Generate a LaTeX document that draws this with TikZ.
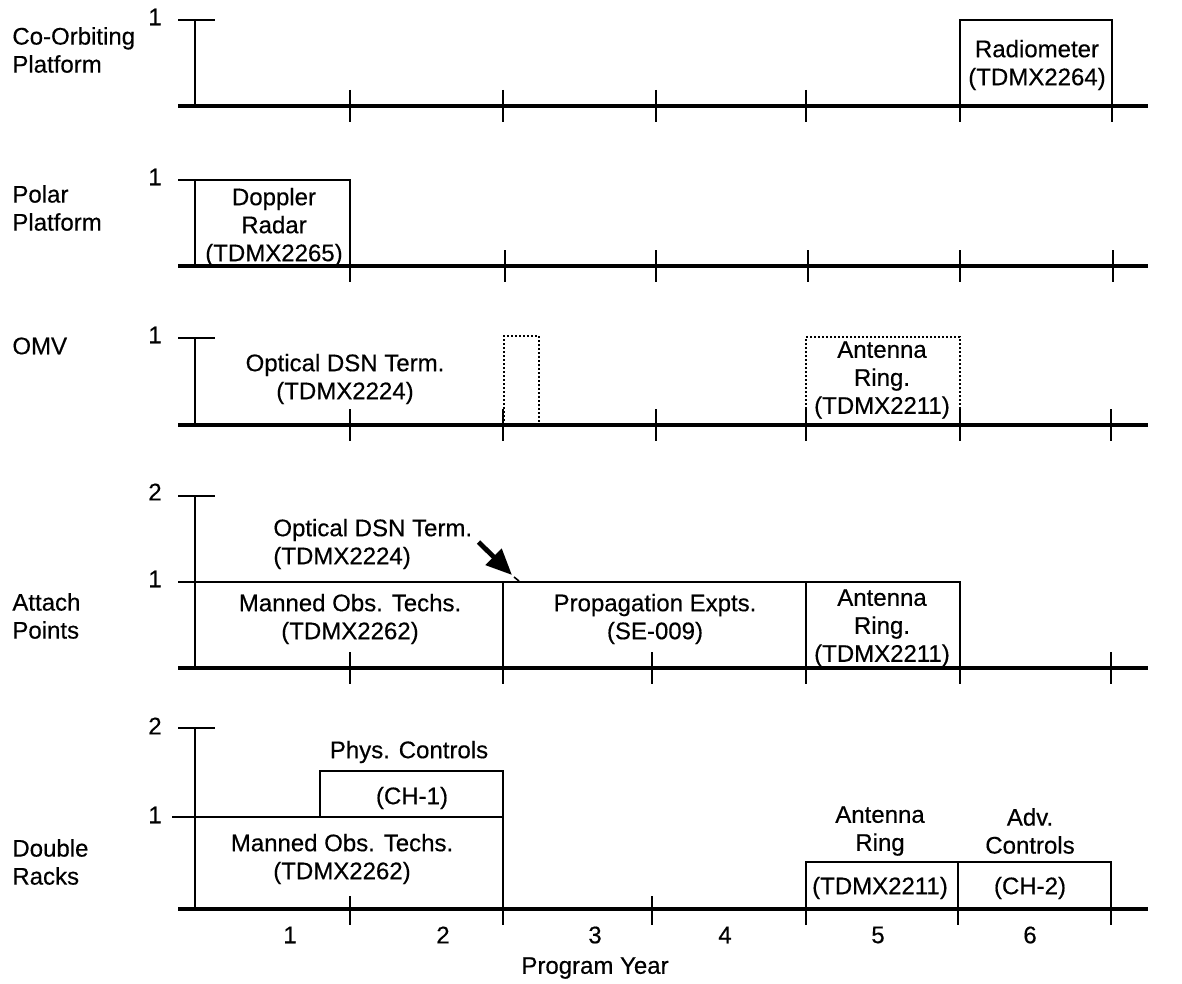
\documentclass[tikz,border=0pt]{standalone}
\usepackage{fontspec}
\setmainfont{Liberation Sans}[FakeBold=0.4]
\usetikzlibrary{arrows.meta}
\tikzset{
  txt/.style={font=\fontsize{12}{14}\selectfont, align=center, inner sep=0pt},
  rowlbl/.style={txt, anchor=west, align=left},
  baseln/.style={line width=1.6pt},
  boxln/.style={line width=1.3pt},
  tickln/.style={line width=1.1pt},
  dotbox/.style={line width=1pt, densely dotted},
}

\begin{document}
\begin{tikzpicture}[x=0.5pt, y=-0.5pt]
  \useasboundingbox (0,0) rectangle (1182,984);
  \node[rowlbl] (coorb) at (12,50) {Co-Orbiting\\Platform};
  \node[txt] (coorbone) at (155,17) {1};
  \draw[boxln] (178,20) -- (215,20) (195,20) -- (195,106);
  \draw[baseln] (178,106) -- (1148,106);
  \foreach \x in {350,503,656,806} \draw[tickln] (\x,90) -- (\x,122);
  \draw[boxln] (960,122) -- (960,20) -- (1112,20) -- (1112,122);
  \node[txt] (radio) at (1037,65) {Radiometer\\(TDMX2264)};

  \node[rowlbl] (polar) at (12,208) {Polar\\Platform};
  \node[txt] (polarone) at (155,177) {1};
  \draw[boxln] (178,180) -- (350,180) -- (350,282) (195,180) -- (195,266);
  \draw[baseln] (178,266) -- (1148,266);
  \foreach \x in {505,656,808,960,1113} \draw[tickln] (\x,250) -- (\x,282);
  \node[txt] (doppler) at (274,227) {Doppler\\Radar\\(TDMX2265)};

  \node[rowlbl] (omv) at (12,346) {OMV};
  \node[txt] (omvone) at (155,335) {1};
  \draw[boxln] (178,338) -- (215,338) (195,338) -- (195,425);
  \draw[baseln] (178,425) -- (1148,425);
  \foreach \x in {350,503,656,806,960,1111} \draw[tickln] (\x,409) -- (\x,441);
  \draw[dotbox] (504,425) -- (504,336) -- (539,336) -- (539,425);
  \draw[dotbox] (806,425) -- (806,337) -- (960,337) -- (960,425);
  \node[txt] (omvopt) at (345,379) {Optical DSN Term.\\(TDMX2224)};
  \node[txt] (omvant) at (882,380) {Antenna\\Ring.\\(TDMX2211)};

  \node[rowlbl] (attach) at (12,616) {Attach\\Points};
  \node[txt] (atttwo) at (155,492) {2};
  \node[txt] (attone) at (155,579) {1};
  \draw[boxln] (178,496) -- (215,496) (195,496) -- (195,668);
  \draw[boxln] (178,582) -- (960,582) -- (960,684);
  \draw[boxln] (503,582) -- (503,684) (806,582) -- (806,684);
  \draw[baseln] (178,668) -- (1148,668);
  \foreach \x in {350,652,1111} \draw[tickln] (\x,652) -- (\x,684);
  \node[txt] (attman) at (350,619) {Manned Obs. Techs.\\(TDMX2262)};
  \node[txt] (attprop) at (655,619) {Propagation Expts.\\(SE-009)};
  \node[txt] (attant) at (882,628) {Antenna\\Ring.\\(TDMX2211)};
  \node[rowlbl] (attopt) at (273,544) {Optical DSN Term.\\(TDMX2224)};
  \coordinate (opttip) at (512,575);
  \draw[line width=2.4pt, -{Triangle[length=13pt, width=11pt]}] ([shift={(6,-2)}]attopt.east) -- (opttip);
  \draw[line width=0.8pt] ([shift={(2,2)}]opttip) -- ++(5,4);

  \node[rowlbl] (double) at (12,862) {Double\\Racks};
  \node[txt] (dbltwo) at (155,726) {2};
  \node[txt] (dblone) at (155,815) {1};
  \draw[boxln] (178,728) -- (215,728) (195,728) -- (195,909);
  \draw[boxln] (172,817) -- (320,817) -- (320,771) -- (503,771) -- (503,925);
  \draw[boxln] (320,817) -- (503,817);
  \draw[baseln] (178,909) -- (1148,909);
  \foreach \x in {350,652} \draw[tickln] (\x,896) -- (\x,925);
  \draw[boxln] (806,925) -- (806,862) -- (1111,862) -- (1111,925);
  \draw[boxln] (958,862) -- (958,925);
  \node[txt] (dblphys) at (409,752) {Phys. Controls};
  \node[txt] (dblch) at (412,798) {(CH-1)};
  \node[txt] (dblman) at (342,859) {Manned Obs. Techs.\\(TDMX2262)};
  \node[txt] (dblant) at (880,831) {Antenna\\Ring};
  \node[txt] (dblanttd) at (880,888) {(TDMX2211)};
  \node[txt] (dbladv) at (1030,831) {Adv.\\Controls};
  \node[txt] (dblchtwo) at (1030,888) {(CH-2)};

  \foreach \n/\x in {1/290, 2/443, 3/595, 4/725, 5/878, 6/1030}
    \node[txt] (yr\n) at (\x,935) {\n};
  \node[txt] (progyr) at (595,968) {Program Year};
\end{tikzpicture}
\end{document}
